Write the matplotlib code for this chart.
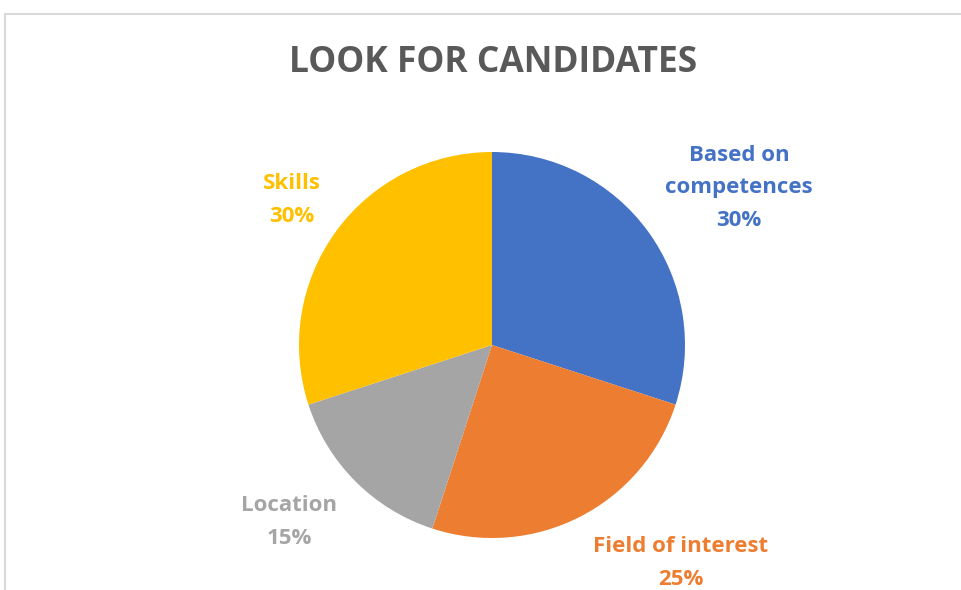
import matplotlib
matplotlib.use('Agg')
import matplotlib.pyplot as plt
from matplotlib.patches import Rectangle

# chart data
categories = ['Based on competences', 'Field of interest', 'Location', 'Skills']
label_text = ['Based on\ncompetences', 'Field of interest', 'Location', 'Skills']
shares = [30, 25, 15, 30]
colors = ['#4472C4', '#ED7D31', '#A5A5A5', '#FFC000']
title = 'LOOK FOR CANDIDATES'

plt.rcParams['font.family'] = ['Open Sans', 'DejaVu Sans']

W, H = 961, 590
fig = plt.figure(figsize=(W / 100, H / 100), dpi=100)
ax = fig.add_axes([0, 0, 1, 1])

# pie in pixel-like coords (origin bottom-left)
cx, cy, r = 492, H - 345, 193
wedges, _ = ax.pie(shares, colors=colors, startangle=90, counterclock=False,
                   center=(cx, cy), radius=r, frame=False,
                   wedgeprops=dict(linewidth=0))
ax.set_aspect('auto')
ax.set_xlim(0, W)
ax.set_ylim(0, H)
ax.axis('off')

# chart area border (runs off the right and bottom edges)
fig.patches.append(Rectangle((5 / W, -0.05), 1.2, (H - 14) / H + 0.05,
                             transform=fig.transFigure, fill=False,
                             edgecolor='#D9D9D9', linewidth=1.5))

fig.text(493 / W, 1 - 63 / H, title, ha='center', va='center',
         fontsize=25.5, fontweight='bold', color='#595959')

# data label positions (px from top-left)
label_pos = [(739, 188), (681, 563), (289, 522), (292, 200)]
for txt, val, col, (lx, ly) in zip(label_text, shares, colors, label_pos):
    ax.text(lx, H - ly, f'{txt}\n{val}%', ha='center', va='center',
            fontsize=16, fontweight='bold', color=col, linespacing=1.72)

fig.savefig('out.png', dpi=100)
